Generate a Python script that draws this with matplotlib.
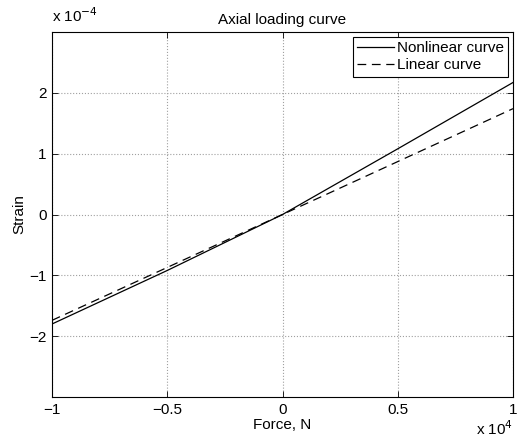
import matplotlib.pyplot as plt
import numpy as np

plt.rcParams['font.family'] = ['Liberation Sans', 'DejaVu Sans']

# force in units of 1e4 N, strain in units of 1e-4
force = [-1.0, -0.5, 0.0, 0.5, 1.0]
strain_nonlinear = [-1.80, -0.92, 0.0, 1.08, 2.17]
strain_linear = [-1.74, -0.87, 0.0, 0.87, 1.74]

xticks = [-1, -0.5, 0, 0.5, 1]
xticklabels = ['\u22121', '\u22120.5', '0', '0.5', '1']
yticks = [-2, -1, 0, 1, 2]
yticklabels = ['\u22122', '\u22121', '0', '1', '2']

fs = 11

fig = plt.figure(figsize=(5.17, 4.42), dpi=100)
ax = fig.add_axes([0.1006, 0.1018, 0.8917, 0.8258])

x = np.array(force) * 1e4
ax.plot(x, np.array(strain_nonlinear) * 1e-4, 'k-', lw=0.9, label='Nonlinear curve')
ax.plot(x, np.array(strain_linear) * 1e-4, 'k--', lw=0.9, dashes=(7, 4.5), label='Linear curve')

ax.set_xlim(-1e4, 1e4)
ax.set_ylim(-3e-4, 3e-4)
ax.set_xticks(np.array(xticks) * 1e4)
ax.set_xticklabels(xticklabels)
ax.set_yticks(np.array(yticks) * 1e-4)
ax.set_yticklabels(yticklabels)
ax.tick_params(direction='in', top=True, right=True, labelsize=fs, length=4, width=0.6, pad=4)
ax.grid(True, linestyle=':', color='#a0a0a0', lw=0.8)
for s in ax.spines.values():
    s.set_linewidth(0.8)

ax.set_xlabel('Force, N', fontsize=fs, labelpad=1)
ax.set_ylabel('Strain', fontsize=fs, labelpad=2)
ax.set_title('Axial loading curve', fontsize=fs, pad=6)

ax.text(0.0, 1.018, r'x 10$^{-4}$', transform=ax.transAxes, fontsize=fs, ha='left', va='bottom')
ax.text(1.0, -0.06, r'x 10$^{4}$', transform=ax.transAxes, fontsize=fs, ha='right', va='top')

leg = ax.legend(loc='upper right', fontsize=fs, fancybox=False, edgecolor='black',
                framealpha=1, borderaxespad=0.3, handlelength=2.4, handletextpad=0.2,
                borderpad=0.3, labelspacing=0.2)
leg.get_frame().set_linewidth(0.8)

fig.savefig('out.png', dpi=100)
